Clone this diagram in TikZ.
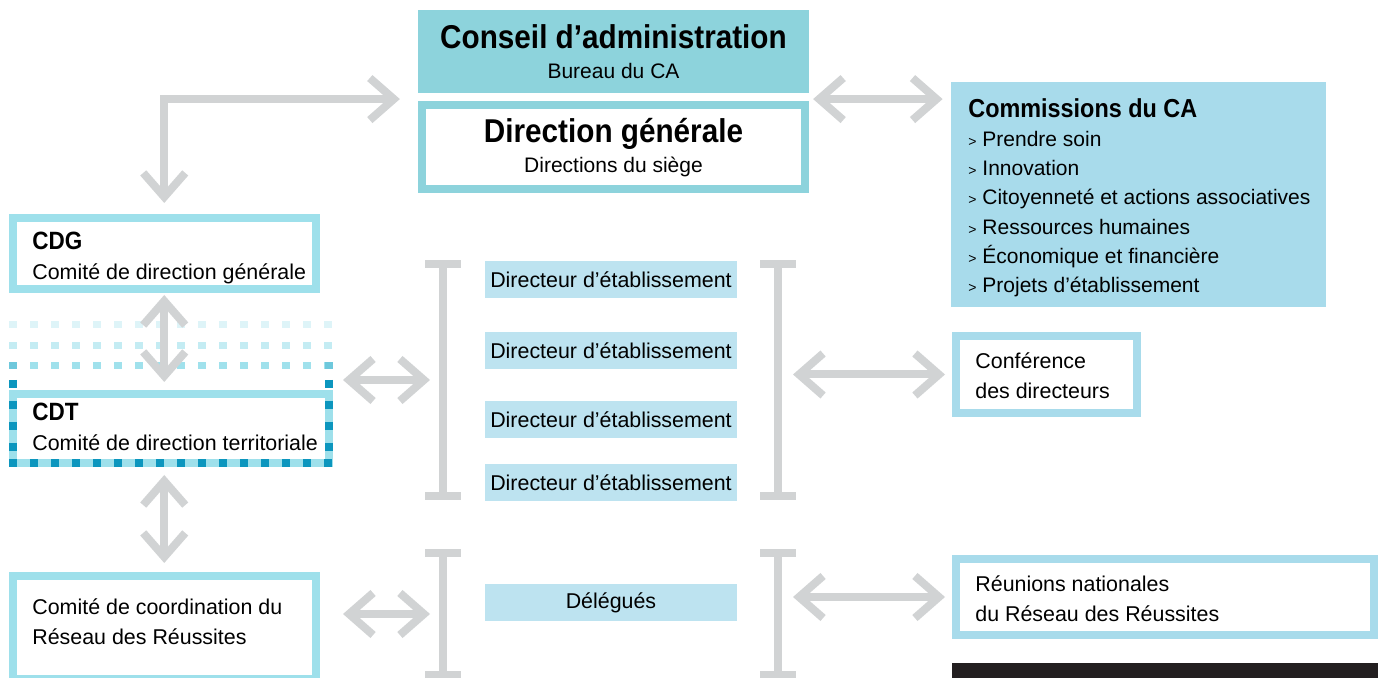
\documentclass[tikz,border=0pt]{standalone}
\usepackage{fontspec}
\setmainfont{Liberation Sans}[BoldFeatures={FakeStretch=0.9}]
\usetikzlibrary{arrows.meta,calc}

\definecolor{cabg}{RGB}{141,211,220}
\definecolor{combg}{RGB}{168,219,235}
\definecolor{cdgline}{RGB}{158,224,235}
\definecolor{dirbg}{RGB}{189,227,240}
\definecolor{flechegris}{RGB}{209,211,212}
\definecolor{cdtfonce}{RGB}{12,150,190}
\definecolor{cdtmoyen}{RGB}{110,200,220}
\definecolor{rangA}{RGB}{222,244,248}
\definecolor{rangB}{RGB}{196,236,243}
\definecolor{rangC}{RGB}{160,225,236}
\definecolor{noirbas}{RGB}{35,31,32}

\begin{document}
\begin{tikzpicture}[x=0.5pt,y=-0.5pt,
    boite/.style={draw=cdgline, line width=4pt, fill=white, inner sep=0pt},
    dirbox/.style={fill=dirbg, minimum width=126pt, minimum height=18.5pt, inner sep=0pt, font=\fontsize{10.7}{13}\selectfont},
    texte/.style={anchor=north west, inner sep=0pt, align=left, font=\fontsize{10.7}{15}\selectfont},
    garrow/.style={draw=flechegris, line width=4pt, >={Straight Barb[length=12pt,width=21pt]}},
    crochet/.style={draw=flechegris, line width=4pt},
    pointille/.style={line width=3.5pt, dash pattern=on 4pt off 6.5pt}]
    \useasboundingbox (0,0) rectangle (1378,678);

    % Conseil et direction generale
    \node[fill=cabg, minimum width=195.5pt, minimum height=41.5pt, inner sep=0pt, align=center, font=\fontsize{10.5}{15}\selectfont] (conseil) at (613.5,51.5)
      {{\bfseries\fontsize{16.5}{18}\selectfont Conseil d’administration}\\Bureau du CA};
    \node[draw=cabg, line width=4pt, fill=white, minimum width=191.5pt, minimum height=42pt, inner sep=0pt, align=center, font=\fontsize{10.5}{15}\selectfont] (dg) at (613.5,147.5)
      {{\bfseries\fontsize{16.5}{18}\selectfont Direction générale}\\Directions du siège};

    % Commissions du CA
    \node[fill=combg, minimum width=187.5pt, minimum height=112.5pt] (com) at (1138.5,194.5) {};
    \node[texte, font=\fontsize{10.5}{14.6}\selectfont] (com-t) at (968,98)
      {{\bfseries\fontsize{13}{15}\selectfont Commissions du CA}\\
       {\fontsize{7}{7}\selectfont>} Prendre soin\\
       {\fontsize{7}{7}\selectfont>} Innovation\\
       {\fontsize{7}{7}\selectfont>} Citoyenneté et actions associatives\\
       {\fontsize{7}{7}\selectfont>} Ressources humaines\\
       {\fontsize{7}{7}\selectfont>} Économique et financière\\
       {\fontsize{7}{7}\selectfont>} Projets d’établissement};

    % Comites a gauche
    \node[boite, minimum width=151.75pt, minimum height=35.5pt] (cdg) at (164.25,253.5) {};
    \node[texte] (cdg-t) at (32,232) {{\bfseries\fontsize{12.5}{14}\selectfont CDG}\\Comité de direction générale};

    \foreach \yy/\cc in {324.5/rangA, 345.5/rangB, 365.5/rangC}
      \draw[pointille, draw=\cc] (9,\yy) -- (333,\yy);
    \draw[cdtmoyen, line width=3.5pt] (9,365.5) -- (17,365.5) (325,365.5) -- (333,365.5);
    \node[boite, minimum width=158pt, minimum height=34.75pt] (cdt) at (171,428.75) {};
    \draw[cdtfonce, line width=4pt, dash pattern=on 4pt off 6.5pt] (13,380) -- (13,460) (329,380) -- (329,460) (9,463.5) -- (333,463.5);
    \node[texte] (cdt-t) at (32,403) {{\bfseries\fontsize{12.5}{14}\selectfont CDT}\\Comité de direction territoriale};

    \node[boite, minimum width=151.75pt, minimum height=51.5pt] (coord) at (164.25,627.5) {};
    \node[texte] (coord-t) at (32,598) {Comité de coordination du\\Réseau des Réussites};

    % Directeurs et delegues
    \foreach \i/\yy in {1/279.5, 2/351, 3/420, 4/482.5}
      \node[dirbox] (dir\i) at (611,\yy) {Directeur d’établissement};
    \node[dirbox] (delegues) at (611,603) {Délégués};

    % Crochets
    \foreach \bx/\by/\ey/\nm in {443/264/496/dirG, 778/264/496/dirD, 443/553/675/delG, 778/553/675/delD} {
      \coordinate (\nm-h) at (\bx,\by);
      \coordinate (\nm-b) at (\bx,\ey);
      \coordinate (\nm) at (\bx,{(\by+\ey)/2});
      \draw[crochet] ($(\nm-h)+(-18,0)$) -- ($(\nm-h)+(18,0)$) (\nm-h) -- (\nm-b) ($(\nm-b)+(-18,0)$) -- ($(\nm-b)+(18,0)$);
    }

    % Instances a droite
    \node[boite, draw=combg, minimum width=90.5pt, minimum height=38.5pt] (conf) at (1046.5,374.5) {};
    \node[texte] (conf-t) at (975,352) {Conférence\\des directeurs};
    \node[boite, draw=combg, minimum width=209pt, minimum height=38pt] (reun) at (1165,597) {};
    \node[texte] (reun-t) at (975,575) {Réunions nationales\\du Réseau des Réussites};
    \node[fill=noirbas, minimum width=213pt, minimum height=10pt, inner sep=0pt, anchor=north west] (bandeau) at (952,663) {};

    % Fleches
    \coordinate (cagauche) at ($(conseil.south west)!0.7!(dg.north west)$);
    \coordinate (cadroite) at ($(conseil.south east)!0.7!(dg.north east)$);
    \draw[garrow,<->,shorten <=5.5pt,shorten >=9pt] (cdg.north) |- (cagauche);
    \draw[garrow,<->,shorten <=2pt,shorten >=4pt] (cadroite) -- (cadroite -| com.west);
    \draw[garrow,<->,shorten <=1pt,shorten >=4pt] (cdg.south) -- (cdg.south |- cdt.north);
    \draw[garrow,<->,shorten <=3.75pt,shorten >=4.5pt] (coord.north |- cdt.south) -- (coord.north);
    \draw[garrow,<->,shorten <=5pt,shorten >=6.5pt] (cdt.east |- dirG) -- (dirG);
    \draw[garrow,<->,shorten <=11.5pt,shorten >=6.5pt] (coord.east |- delG) -- (delG);
    \draw[garrow,<->,shorten <=7.5pt,shorten >=3.5pt] (dirD |- conf.west) -- (conf.west);
    \draw[garrow,<->,shorten <=7.5pt,shorten >=3.5pt] (delD |- reun.west) -- (reun.west);
\end{tikzpicture}
\end{document}
